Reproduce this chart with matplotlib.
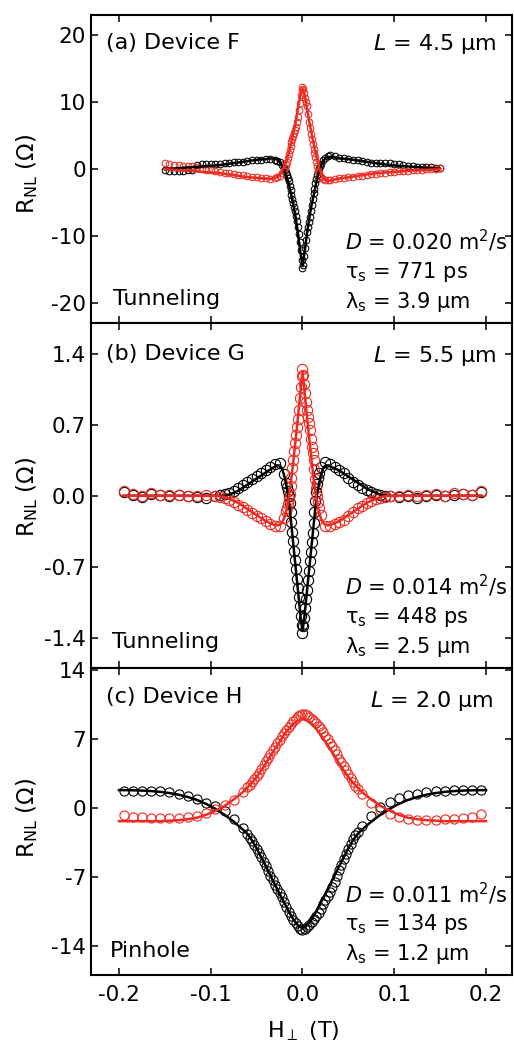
import numpy as np
import matplotlib
matplotlib.use("Agg")
import matplotlib.pyplot as plt

plt.rcParams['font.family'] = ['DejaVu Sans']
plt.rcParams['axes.unicode_minus'] = False
plt.rcParams['mathtext.fontset'] = 'dejavusans'

# ---------------- data ----------------
x_ticks = [-0.2, -0.1, 0.0, 0.1, 0.2]
x_ticklabels = ['-0.2', '-0.1', '0.0', '0.1', '0.2']

# ===== Panel (a) Device F =====
# measured points
xa = [-0.150, -0.145, -0.140, -0.135, -0.130, -0.125, -0.120, -0.115, -0.110, -0.105, -0.100,
      -0.095, -0.090, -0.085, -0.080, -0.075, -0.070, -0.065, -0.060, -0.055, -0.050, -0.045,
      -0.040, -0.035, -0.030, -0.0275, -0.025, -0.0225,
      -0.020, -0.019, -0.018, -0.017, -0.016, -0.015, -0.014, -0.013, -0.012, -0.011, -0.010,
      -0.009, -0.008, -0.007, -0.006, -0.005, -0.004, -0.003, -0.002, -0.001, 0.000,
      0.001, 0.002, 0.003, 0.004, 0.005, 0.006, 0.007, 0.008, 0.009, 0.010,
      0.011, 0.012, 0.013, 0.014, 0.015, 0.016, 0.017, 0.018, 0.019, 0.020,
      0.0225, 0.025, 0.0275, 0.030, 0.035, 0.040,
      0.045, 0.050, 0.055, 0.060, 0.065, 0.070, 0.075, 0.080, 0.085, 0.090, 0.095,
      0.100, 0.105, 0.110, 0.115, 0.120, 0.125, 0.130, 0.135, 0.140, 0.145, 0.150]
a_black = [-0.15, -0.25, -0.3, -0.3, -0.3, -0.2, -0.15, 0.6, 0.7, 0.7, 0.75,
           0.8, 0.8, 0.85, 0.9, 1.0, 1.0, 1.1, 1.2, 1.3, 1.35, 1.4,
           1.5, 1.5, 1.3, 1.2, 1.0, 0.6,
           0.1, -0.15, -0.4, -0.8, -1.3, -1.8, -2.5, -3.1, -3.8, -4.4, -5.0,
           -5.7, -6.3, -7.0, -7.8, -8.7, -9.7, -10.8, -12.0, -13.5, -14.8,
           -14.3, -13.0, -11.8, -10.5, -9.4, -8.6, -7.9, -7.2, -6.3, -5.4,
           -4.5, -3.6, -2.9, -2.1, -1.4, -0.9, -0.35, 0.15, 0.5, 0.8,
           1.3, 1.7, 2.0, 2.1, 1.9, 1.7,
           1.6, 1.5, 1.4, 1.3, 1.2, 1.05, 0.95, 0.95, 0.95, 0.9, 0.85,
           0.8, 0.7, 0.6, 0.5, 0.45, 0.35, 0.35, 0.3, 0.25, 0.2, 0.1]
a_red = [0.85, 0.7, 0.6, 0.55, 0.5, 0.45, 0.4, 0.3, 0.1, -0.1, -0.2,
         -0.3, -0.4, -0.5, -0.6, -0.7, -0.8, -0.9, -1.0, -1.1, -1.2, -1.25,
         -1.3, -1.4, -1.35, -1.2, -1.0, -0.6,
         -0.1, 0.2, 0.6, 1.1, 1.7, 2.3, 2.9, 3.5, 4.0, 4.5, 5.0,
         5.4, 5.8, 6.3, 7.0, 7.8, 8.8, 9.9, 11.0, 11.8, 12.2,
         12.0, 11.3, 10.6, 10.0, 9.4, 8.3, 7.0, 6.2, 5.3, 4.5,
         3.7, 3.0, 2.4, 1.8, 1.1, 0.4, -0.3, -0.7, -1.0, -1.2,
         -1.5, -1.6, -1.65, -1.6, -1.45, -1.3,
         -1.25, -1.15, -1.1, -1.0, -0.95, -0.85, -0.75, -0.65, -0.55, -0.5, -0.45,
         -0.4, -0.35, -0.3, -0.25, -0.2, -0.15, -0.1, -0.05, 0.0, 0.05, 0.1]
# fitted curves
xa_fit = [-0.150, -0.145, -0.140, -0.135, -0.130, -0.125, -0.120, -0.115, -0.110, -0.105, -0.100,
          -0.095, -0.090, -0.085, -0.080, -0.075, -0.070, -0.065, -0.060, -0.055, -0.050, -0.045,
          -0.0400, -0.0375, -0.0350, -0.0325, -0.0300, -0.0275, -0.0250, -0.0225, -0.0200, -0.0175,
          -0.0150, -0.0125, -0.0100, -0.0075, -0.0050, -0.0025, 0.0, 0.0025, 0.0050, 0.0075, 0.0100,
          0.0125, 0.0150, 0.0175, 0.0200, 0.0225, 0.0250, 0.0275, 0.0300, 0.0325, 0.0350, 0.0375, 0.0400,
          0.045, 0.050, 0.055, 0.060, 0.065, 0.070, 0.075, 0.080, 0.085, 0.090, 0.095,
          0.100, 0.105, 0.110, 0.115, 0.120, 0.125, 0.130, 0.135, 0.140, 0.145, 0.150]
a_black_fit = [0.0, 0.05, 0.1, 0.15, 0.2, 0.25, 0.3, 0.35, 0.4, 0.45, 0.5, 0.55, 0.6, 0.7, 0.8, 0.9, 1.0, 1.1, 1.2, 1.3, 1.4, 1.45,
               1.5, 1.55, 1.6, 1.6, 1.55, 1.4, 1.1, 0.6, -0.1, -1.0, -2.2, -3.7, -5.3, -7.2, -9.5, -12.2, -14.5,
               -12.2, -9.5, -7.2, -5.3, -3.7, -2.0, -0.6, 0.5, 1.2, 1.6, 1.8, 1.85, 1.8, 1.75, 1.7, 1.6,
               1.55, 1.5, 1.4, 1.3, 1.2, 1.1, 1.0, 0.9, 0.8, 0.7, 0.6, 0.55, 0.5, 0.45, 0.4, 0.35, 0.3, 0.25, 0.2, 0.15, 0.1, 0.05]
a_red_fit = [0.0, -0.05, -0.1, -0.15, -0.2, -0.25, -0.3, -0.35, -0.4, -0.45, -0.5, -0.55, -0.6, -0.7, -0.8, -0.9, -1.0, -1.1, -1.2, -1.25, -1.3, -1.35,
             -1.4, -1.4, -1.45, -1.4, -1.3, -1.15, -0.9, -0.4, 0.3, 1.2, 2.4, 3.8, 5.3, 7.0, 9.0, 11.0, 12.0,
             11.0, 9.0, 7.0, 5.3, 3.6, 2.0, 0.5, -0.6, -1.3, -1.6, -1.7, -1.7, -1.65, -1.55, -1.45, -1.4,
             -1.3, -1.2, -1.1, -1.0, -0.9, -0.8, -0.7, -0.6, -0.55, -0.5, -0.45, -0.4, -0.35, -0.3, -0.25, -0.2, -0.15, -0.12, -0.1, -0.07, -0.05, -0.02]
a_yticks = [-20, -10, 0, 10, 20]
a_yticklabels = ['-20', '-10', '0', '10', '20']

# ===== Panel (b) Device G =====
xb = [-0.195, -0.185, -0.175, -0.165, -0.155, -0.145, -0.135, -0.125, -0.115, -0.105, -0.095,
      -0.090, -0.085, -0.080, -0.075, -0.070, -0.065, -0.060, -0.055, -0.050, -0.045, -0.040, -0.035, -0.030, -0.025, -0.020,
      -0.018, -0.017, -0.016, -0.015, -0.014, -0.013, -0.012, -0.011, -0.010, -0.009, -0.008, -0.007, -0.006, -0.005,
      -0.004, -0.003, -0.002, -0.001, 0.000, 0.001, 0.002, 0.003, 0.004, 0.005, 0.006, 0.007, 0.008, 0.009,
      0.010, 0.011, 0.012, 0.013, 0.014, 0.015, 0.016, 0.017, 0.018,
      0.020, 0.025, 0.030, 0.035, 0.040, 0.045, 0.050, 0.055, 0.060, 0.065, 0.070, 0.075, 0.080, 0.085, 0.090,
      0.095, 0.105, 0.115, 0.125, 0.135, 0.145, 0.155, 0.165, 0.175, 0.185, 0.195]
b_black = [0.04, 0.01, -0.01, 0.02, 0.01, 0.0, 0.01, 0.0, -0.01, -0.02, 0.0,
           0.01, 0.02, 0.03, 0.05, 0.08, 0.11, 0.14, 0.17, 0.2, 0.22, 0.25, 0.28, 0.31, 0.32, 0.21,
           0.13, 0.09, 0.05, 0.0, -0.07, -0.16, -0.26, -0.36, -0.45, -0.54, -0.63, -0.72, -0.82, -0.91,
           -1.0, -1.09, -1.18, -1.27, -1.35, -1.28, -1.2, -1.11, -1.02, -0.93, -0.83, -0.74, -0.64, -0.55,
           -0.46, -0.37, -0.27, -0.16, -0.05, 0.04, 0.12, 0.18, 0.22,
           0.28, 0.33, 0.31, 0.28, 0.25, 0.22, 0.18, 0.14, 0.11, 0.08, 0.06, 0.04, 0.02, 0.01, 0.0,
           0.0, -0.01, 0.0, -0.02, 0.0, 0.01, 0.0, 0.01, 0.02, 0.01, 0.04]
b_red = [0.05, 0.02, 0.0, 0.03, 0.01, 0.01, 0.01, 0.0, 0.0, 0.01, 0.0,
         -0.01, -0.02, -0.04, -0.06, -0.09, -0.11, -0.14, -0.17, -0.2, -0.22, -0.25, -0.28, -0.3, -0.3, -0.22,
         -0.15, -0.12, -0.08, -0.03, 0.02, 0.1, 0.18, 0.27, 0.35, 0.44, 0.52, 0.6, 0.68, 0.76,
         0.85, 0.96, 1.07, 1.18, 1.25, 1.19, 1.1, 1.01, 0.92, 0.85, 0.78, 0.72, 0.65, 0.56,
         0.48, 0.42, 0.35, 0.26, 0.17, 0.08, 0.0, -0.06, -0.12,
         -0.19, -0.3, -0.3, -0.28, -0.26, -0.24, -0.2, -0.16, -0.12, -0.1, -0.07, -0.05, -0.03, -0.02, -0.01,
         0.0, 0.0, 0.01, 0.0, 0.01, 0.02, 0.0, 0.03, 0.02, 0.01, 0.05]
xb_fit = [-0.195, -0.185, -0.175, -0.165, -0.155, -0.145, -0.135, -0.125, -0.115, -0.105, -0.095,
          -0.085, -0.080, -0.075, -0.070, -0.065, -0.060, -0.055, -0.050, -0.045, -0.040, -0.035, -0.030,
          -0.028, -0.026, -0.024, -0.022, -0.020, -0.018, -0.016, -0.014, -0.012, -0.010, -0.008, -0.006, -0.004, -0.002,
          0.0, 0.002, 0.004, 0.006, 0.008, 0.010, 0.012, 0.014, 0.016, 0.018, 0.020, 0.022, 0.024, 0.026, 0.028,
          0.030, 0.035, 0.040, 0.045, 0.050, 0.055, 0.060, 0.065, 0.070, 0.075, 0.080, 0.085,
          0.095, 0.105, 0.115, 0.125, 0.135, 0.145, 0.155, 0.165, 0.175, 0.185, 0.195]
b_black_fit = [0.0, 0.0, 0.0, 0.0, 0.0, 0.0, 0.0, 0.0, 0.0, 0.0, 0.0,
               0.0, 0.01, 0.03, 0.05, 0.08, 0.11, 0.14, 0.17, 0.2, 0.23, 0.26, 0.29,
               0.3, 0.3, 0.29, 0.26, 0.2, 0.12, 0.02, -0.12, -0.3, -0.48, -0.66, -0.84, -1.02, -1.2,
               -1.33, -1.2, -1.02, -0.84, -0.66, -0.48, -0.3, -0.12, 0.02, 0.12, 0.2, 0.26, 0.29, 0.3, 0.3,
               0.29, 0.27, 0.25, 0.22, 0.19, 0.16, 0.13, 0.1, 0.07, 0.05, 0.03, 0.01,
               0.0, 0.0, 0.0, 0.0, 0.0, 0.0, 0.0, 0.0, 0.0, 0.0, 0.0]
b_red_fit = [0.0, 0.0, 0.0, 0.0, 0.0, 0.0, 0.0, 0.0, 0.0, 0.0, 0.0,
             -0.01, -0.03, -0.05, -0.07, -0.1, -0.13, -0.16, -0.19, -0.22, -0.25, -0.27, -0.29,
             -0.29, -0.29, -0.28, -0.26, -0.22, -0.16, -0.08, 0.04, 0.18, 0.34, 0.51, 0.68, 0.86, 1.05,
             1.22, 1.05, 0.86, 0.68, 0.51, 0.34, 0.18, 0.04, -0.08, -0.16, -0.22, -0.26, -0.28, -0.29, -0.29,
             -0.29, -0.27, -0.25, -0.22, -0.19, -0.16, -0.13, -0.1, -0.07, -0.05, -0.03, -0.01,
             0.0, 0.0, 0.0, 0.0, 0.0, 0.0, 0.0, 0.0, 0.0, 0.0, 0.0]
b_yticks = [-1.4, -0.7, 0.0, 0.7, 1.4]
b_yticklabels = ['-1.4', '-0.7', '0.0', '0.7', '1.4']

# ===== Panel (c) Device H =====
xc = [-0.195, -0.185, -0.175, -0.165, -0.155, -0.145, -0.135, -0.125, -0.115, -0.105, -0.095, -0.085, -0.075, -0.065,
      -0.060, -0.0575, -0.055, -0.0525, -0.050, -0.0475, -0.045, -0.0425, -0.040, -0.0375, -0.035, -0.0325,
      -0.030, -0.0275, -0.025, -0.0225, -0.020, -0.0175, -0.015, -0.0125, -0.010, -0.0075, -0.005, -0.0025,
      0.000, 0.0025, 0.005, 0.0075, 0.010, 0.0125, 0.015, 0.0175, 0.020, 0.0225, 0.025, 0.0275,
      0.030, 0.0325, 0.035, 0.0375, 0.040, 0.0425, 0.045, 0.0475, 0.050, 0.0525, 0.055, 0.0575, 0.060,
      0.065, 0.075, 0.085, 0.095, 0.105, 0.115, 0.125, 0.135, 0.145, 0.155, 0.165, 0.175, 0.185, 0.195]
c_black = [1.75, 1.75, 1.75, 1.7, 1.7, 1.6, 1.45, 1.2, 0.85, 0.5, 0.2, -0.35, -1.1, -2.0,
           -2.7, -3.05, -3.4, -3.8, -4.2, -4.6, -5.0, -5.45, -5.9, -6.4, -6.9, -7.35,
           -7.8, -8.2, -8.6, -9.05, -9.5, -10.1, -10.6, -11.0, -11.4, -11.7, -12.0, -12.25,
           -12.4, -12.3, -12.1, -11.85, -11.6, -11.3, -11.0, -10.7, -10.3, -9.8, -9.3, -8.9,
           -8.5, -8.0, -7.5, -6.9, -6.3, -5.8, -5.2, -4.7, -4.2, -3.7, -3.2, -2.8, -2.4,
           -1.8, -0.8, 0.1, 0.6, 1.0, 1.3, 1.45, 1.6, 1.7, 1.75, 1.8, 1.8, 1.8, 1.8]
c_red = [-0.75, -0.9, -0.95, -1.0, -1.0, -1.0, -1.0, -0.95, -0.8, -0.55, -0.15, 0.3, 0.8, 1.6,
         2.1, 2.35, 2.6, 2.9, 3.2, 3.55, 3.9, 4.3, 4.7, 5.1, 5.5, 5.85,
         6.2, 6.55, 6.9, 7.25, 7.6, 7.9, 8.2, 8.5, 8.8, 9.05, 9.3, 9.45,
         9.55, 9.5, 9.4, 9.2, 9.0, 8.8, 8.6, 8.3, 8.0, 7.65, 7.3, 6.95,
         6.6, 6.25, 5.9, 5.45, 5.0, 4.6, 4.2, 3.8, 3.4, 3.0, 2.6, 2.25, 1.9,
         1.4, 0.5, -0.2, -0.6, -0.9, -1.1, -1.2, -1.2, -1.2, -1.15, -1.1, -1.05, -0.9, -0.65]
xc_fit = [-0.200, -0.185, -0.175, -0.165, -0.155, -0.145, -0.135, -0.125, -0.115, -0.105, -0.095, -0.085, -0.075, -0.065,
          -0.060, -0.055, -0.050, -0.045, -0.040, -0.035, -0.030, -0.025, -0.020, -0.015, -0.010, -0.005, 0.0,
          0.005, 0.010, 0.015, 0.020, 0.025, 0.030, 0.035, 0.040, 0.045, 0.050, 0.055, 0.060,
          0.065, 0.075, 0.085, 0.095, 0.105, 0.115, 0.125, 0.135, 0.145, 0.155, 0.165, 0.175, 0.185, 0.200]
c_black_fit = [1.8, 1.78, 1.75, 1.7, 1.62, 1.5, 1.33, 1.1, 0.8, 0.4, -0.1, -0.7, -1.4, -2.2,
               -2.65, -3.3, -4.1, -5.0, -5.9, -6.85, -7.8, -8.7, -9.6, -10.5, -11.3, -11.9, -12.2,
               -11.9, -11.3, -10.5, -9.6, -8.7, -7.8, -6.85, -5.9, -5.0, -4.1, -3.3, -2.65,
               -2.2, -1.4, -0.7, -0.1, 0.4, 0.8, 1.1, 1.33, 1.5, 1.62, 1.7, 1.75, 1.78, 1.8]
c_red_fit = [-1.35, -1.35, -1.35, -1.35, -1.35, -1.3, -1.25, -1.15, -1.0, -0.7, -0.3, 0.2, 0.85, 1.6,
             2.05, 2.55, 3.15, 3.8, 4.5, 5.25, 6.0, 6.7, 7.4, 8.0, 8.5, 8.85, 9.0,
             8.85, 8.5, 8.0, 7.4, 6.7, 6.0, 5.25, 4.5, 3.8, 3.15, 2.55, 2.05,
             1.6, 0.85, 0.2, -0.3, -0.7, -1.0, -1.15, -1.25, -1.3, -1.35, -1.35, -1.35, -1.35, -1.35]
c_yticks = [-14, -7, 0, 7, 14]
c_yticklabels = ['-14', '-7', '0', '7', '14']

titles = ['(a) Device F', '(b) Device G', '(c) Device H']
lengths = ['$\\mathit{L}$ = 4.5 µm', '$\\mathit{L}$ = 5.5 µm', '$\\mathit{L}$ = 2.0 µm']
contacts = ['Tunneling', 'Tunneling', 'Pinhole']
D_vals = ['0.020', '0.014', '0.011']
tau_vals = ['771', '448', '134']
lam_vals = ['3.9', '2.5', '1.2']

# ---------------- layout ----------------
W, H = 514, 1045
fig = plt.figure(figsize=(W / 100, H / 100), dpi=100)
RED = '#ee2b22'
PX = 0.72  # points per pixel at dpi 100

left_px, right_px = 91.0, 511.7
bounds = [(15.0, 323.3), (323.3, 668.3), (668.3, 975.0)]
ylims = [(-23.0, 23.0), (-1.7, 1.7), (-16.95, 14.15)]
xlim = (-0.2305, 0.228)

panels = [
    (xa, a_black, a_red, xa_fit, a_black_fit, a_red_fit, a_yticks, a_yticklabels, 4.8, 0.75),
    (xb, b_black, b_red, xb_fit, b_black_fit, b_red_fit, b_yticks, b_yticklabels, 7.4, 0.8),
    (xc, c_black, c_red, xc_fit, c_black_fit, c_red_fit, c_yticks, c_yticklabels, 6.6, 0.8),
]
title_base = [34.0, 36.5, 35.0]
L_base = [35.0, 38.4, 38.4]
L_right = [14.7, 15.0, 18.4]
contact_left = [22.0, 21.0, 19.0]
contact_base = [18.3, 20.0, 18.3]
D_base = [73.3, 73.3, 72.3]
ylabel_frac = [0.4843, 0.4965, 0.5135]

axes = []
for i, (x, yb, yr, xf, fb, fr, yt, ytl, ms, mew) in enumerate(panels):
    top, bot = bounds[i]
    ax = fig.add_axes([left_px / W, 1 - bot / H, (right_px - left_px) / W, (bot - top) / H])
    axes.append(ax)
    ax.plot(x, yb, linestyle='none', marker='o', ms=ms, mfc='none', mec='black', mew=mew, zorder=2)
    ax.plot(x, yr, linestyle='none', marker='o', ms=ms, mfc='none', mec=RED, mew=mew, zorder=3)
    ax.plot(xf, fb, color='black', lw=1.8, zorder=4)
    ax.plot(xf, fr, color=RED, lw=1.8, zorder=5)
    ax.set_xlim(*xlim)
    ax.set_ylim(*ylims[i])
    ax.set_xticks(x_ticks)
    ax.set_yticks(yt)
    ax.set_yticklabels(ytl)
    if i == 2:
        ax.set_xticklabels(x_ticklabels)
    else:
        ax.set_xticklabels([])
    ax.tick_params(direction='in', length=5, width=1.1, top=True, right=True,
                   labelsize=15.5, color='black')
    ax.tick_params(axis='y', pad=3.5)
    ax.tick_params(axis='x', pad=7)
    for sp in ax.spines.values():
        sp.set_linewidth(1.5)
        sp.set_zorder(10)

    fs = 16
    ax.annotate(titles[i], xy=(0, 1), xycoords='axes fraction',
                xytext=(15 * PX, -title_base[i] * PX), textcoords='offset points',
                ha='left', va='baseline', fontsize=fs)
    ax.annotate(lengths[i], xy=(1, 1), xycoords='axes fraction',
                xytext=(-L_right[i] * PX, -L_base[i] * PX), textcoords='offset points',
                ha='right', va='baseline', fontsize=fs)
    ax.annotate(contacts[i], xy=(0, 0), xycoords='axes fraction',
                xytext=(contact_left[i] * PX, contact_base[i] * PX), textcoords='offset points',
                ha='left', va='baseline', fontsize=fs)
    blk_x = 254 * PX
    ax.annotate('$\\mathit{D}$ = ' + D_vals[i] + ' m$^{2}$/s', xy=(0, 0), xycoords='axes fraction',
                xytext=(blk_x, D_base[i] * PX), textcoords='offset points',
                ha='left', va='baseline', fontsize=15)
    ax.annotate('τ$_\\mathrm{s}$ = ' + tau_vals[i] + ' ps', xy=(0, 0), xycoords='axes fraction',
                xytext=(blk_x, 45 * PX), textcoords='offset points',
                ha='left', va='baseline', fontsize=15)
    ax.annotate('λ$_\\mathrm{s}$ = ' + lam_vals[i] + ' µm', xy=(0, 0), xycoords='axes fraction',
                xytext=(blk_x, 15 * PX), textcoords='offset points',
                ha='left', va='baseline', fontsize=15)
    ax.text(-64 / (right_px - left_px), ylabel_frac[i], 'R$_\\mathrm{NL}$ (Ω)',
            transform=ax.transAxes, rotation=90, ha='center', va='center', fontsize=16.5)

axes[2].annotate('H$_\\perp$ (T)', xy=((303.3 - left_px) / (right_px - left_px), 0), xycoords='axes fraction',
                 xytext=(0, -62.5 * PX), textcoords='offset points',
                 ha='center', va='baseline', fontsize=16)

fig.savefig('out.png', dpi=100)
